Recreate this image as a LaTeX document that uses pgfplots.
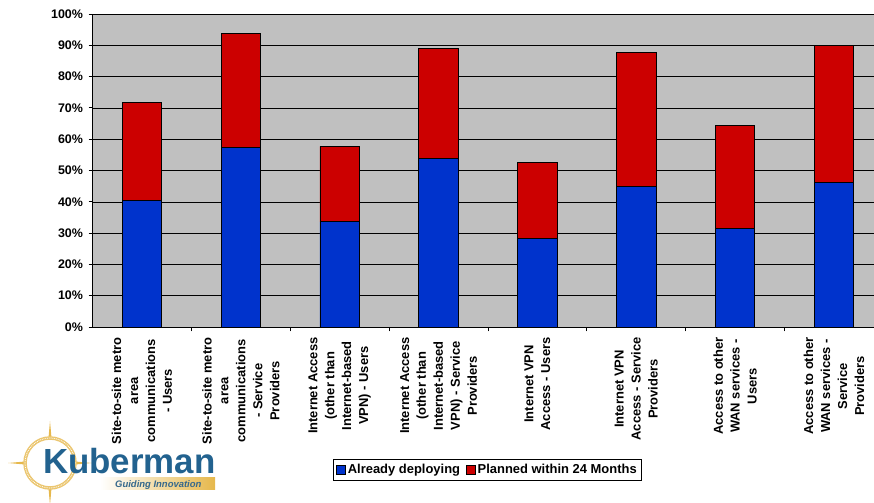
\documentclass[border=0pt]{standalone}
\usepackage{pgfplots}
\pgfplotsset{compat=1.18}
\usepackage{fontspec}
\setmainfont{Liberation Sans}
\definecolor{barblue}{HTML}{0033CC}
\definecolor{barred}{HTML}{CC0000}
\definecolor{plotgray}{HTML}{C0C0C0}
\definecolor{kblue}{HTML}{22628F}
\definecolor{kgold}{HTML}{E6B84C}
\begin{document}
\begin{tikzpicture}
\useasboundingbox (0,0) rectangle (874bp,503bp);
\begin{axis}[
  at={(92.5bp,176bp)}, anchor=south west,
  scale only axis, width=781.5bp, height=313bp,
  xmin=0, xmax=7.905, ymin=0, ymax=100,
  axis x line*=bottom, axis y line*=left,
  axis line style={-, black, line width=0.8bp},
  axis background/.style={fill=plotgray},
  ybar stacked, bar width=39.5bp,
  ytick={0,10,...,100},
  yticklabel={\pgfmathprintnumber{\tick}\%},
  ymajorgrids, grid style={black, line width=0.5bp},
  tick align=outside, major tick length=4bp,
  ytick style={black, line width=0.8bp},
  yticklabel style={font=\bfseries\fontsize{12.5}{14}\selectfont},
  yticklabel shift=2bp,
  /pgf/number format/assume math mode=true,
  xtick={0.5,1.5,...,7.5},
  xtick style={draw=none},
  xticklabels={
    {Site-to-site metro\\area\\communications\\- Users},
    {Site-to-site metro\\area\\communications\\- Service\\Providers},
    {Internet Access\\(other than\\Internet-based\\VPN) - Users},
    {Internet Access\\(other than\\Internet-based\\VPN) - Service\\Providers},
    {Internet VPN\\Access - Users},
    {Internet VPN\\Access - Service\\Providers},
    {Access to other\\WAN services -\\Users},
    {Access to other\\WAN services -\\Service\\Providers}},
  xticklabel style={rotate=90, anchor=east, align=center,
    font=\bfseries\fontsize{13}{17}\selectfont},
  xticklabel shift=3bp,
  extra x ticks={1,2,...,7},
  extra x tick labels={},
  extra x tick style={xtick style={draw=black, line width=0.8bp}, major tick length=4.5bp, tick align=outside},
  legend columns=2,
  legend style={at={(0.5054,-0.4569)}, anchor=center, draw=black, line width=0.6bp,
    font=\bfseries\fontsize{13}{14}\selectfont, inner sep=3bp,
    /tikz/every even column/.append style={column sep=4bp}},
  legend image code/.code={\draw[#1, draw=black, line width=0.6bp] (0bp,-4bp) rectangle (9bp,5bp);},
]
\addplot[fill=barblue, draw=black, line width=0.8bp] coordinates
  {(0.5,40.5) (1.5,57.5) (2.5,33.6) (3.5,53.9) (4.5,28.3) (5.5,44.9) (6.5,31.6) (7.5,46.1)};
\addlegendentry{Already deploying}
\addplot[fill=barred, draw=black, line width=0.8bp] coordinates
  {(0.5,31.3) (1.5,36.3) (2.5,24.1) (3.5,35.1) (4.5,24.2) (5.5,42.7) (6.5,32.8) (7.5,43.8)};
\addlegendentry{Planned within 24 Months}
\end{axis}
% logo
\begin{scope}[shift={(50bp,40bp)}]
  \fill[kgold] (0:42bp) -- (22.5:8bp) -- (45:24bp) -- (67.5:8bp) -- (90:42bp) -- (112.5:8bp) -- (135:24bp) -- (157.5:8bp)
    -- (180:42bp) -- (202.5:8bp) -- (225:24bp) -- (247.5:8bp) -- (270:42bp) -- (292.5:8bp) -- (315:24bp) -- (337.5:8bp) -- cycle;
  \fill[white] (0,0) circle (25bp);
  \draw[kgold!80!white, line width=3.5bp] (0,0) circle (25bp);
  \draw[white, line width=0.8bp, densely dotted] (0,0) circle (25bp);
\end{scope}
\shade[left color=white, right color=kgold] (100bp,13bp) rectangle (215bp,25bp);
\node[anchor=base west, inner sep=0, font=\bfseries\itshape\fontsize{9.5}{10}\selectfont, text=kblue!80!gray] at (115bp,16bp) {Guiding Innovation};
\node[anchor=base west, inner sep=0, font=\bfseries\fontsize{35}{35}\selectfont, text=kblue] at (43bp,30bp) {Kuberman};
\end{tikzpicture}
\end{document}
